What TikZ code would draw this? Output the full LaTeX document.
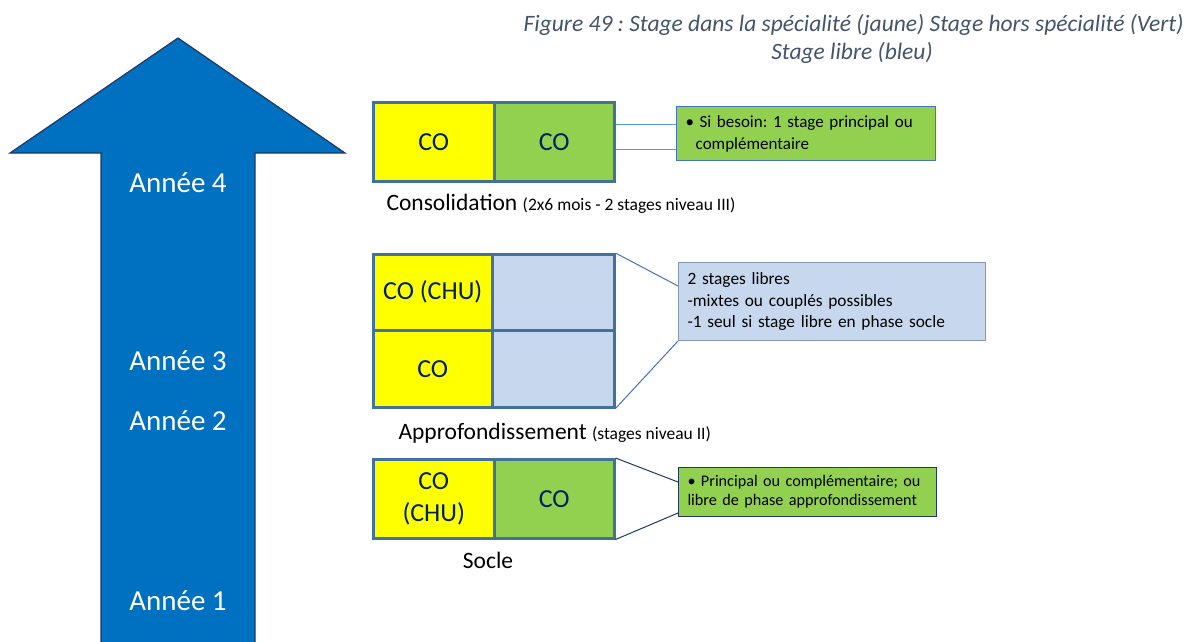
\documentclass[tikz,border=0pt]{standalone}
\usepackage{fontspec}
\setmainfont{Carlito}
\frenchspacing
\definecolor{arrowblue}{HTML}{0070C0}
\definecolor{arrowline}{HTML}{1F3864}
\definecolor{cyel}{HTML}{FFFF00}
\definecolor{cgreen}{HTML}{92D050}
\definecolor{clblue}{HTML}{C6D7EE}
\definecolor{cellborder}{HTML}{41719C}
\definecolor{cotext}{HTML}{002060}
\definecolor{captcol}{HTML}{44546A}
\definecolor{lnlight}{HTML}{5B9BD5}
\definecolor{lnmid}{HTML}{4472C4}
\definecolor{lndark}{HTML}{1F3864}
\definecolor{callgray}{HTML}{8497B0}
\tikzset{
  fs/.style n args={2}{font=\fontsize{#1}{#2}\selectfont},
  fsi/.style n args={2}{font=\fontsize{#1}{#2}\selectfont\itshape},
  cell/.style={draw=cellborder, line width=2.5pt, rectangle, anchor=north west, inner sep=0pt,
     text=cotext, fs={26}{32}, align=center},
  callout/.style={rectangle, anchor=north west, align=left, inner xsep=9pt, inner ysep=0pt},
  phase/.style={anchor=base west, fs={23.5}{28}, text=black},
  year/.style={text=white, fs={29}{34}},
  conn/.style={line width=1pt},
}
\begin{document}
\begin{tikzpicture}[x=1pt,y=-1pt]
\useasboundingbox (0,0) rectangle (1198,641);
% caption
\node[anchor=base east, text=captcol, fsi={23.5}{28}] (cap1) at (1187,31)
  {Figure 49 : Stage dans la spécialité (jaune) Stage hors spécialité (Vert)};
\node[anchor=base, text=captcol, fsi={23.5}{28}] (cap2) at (852,59)
  {Stage libre (bleu)};
% big arrow
\draw[fill=arrowblue, draw=arrowline, line width=1.2pt]
  (101,650) -- (101,153) -- (10,153) -- (178,38) -- (345,153) -- (255,153) -- (255,650);
\node[year] (y4) at (178,183) {Année 4};
\node[year] (y3) at (178,361) {Année 3};
\node[year] (y2) at (178,421) {Année 2};
\node[year] (y1) at (178,601) {Année 1};
% Consolidation
\node[cell, fill=cyel, minimum width=121pt, minimum height=79pt] (cL) at (372,101) {CO};
\node[cell, fill=cgreen, minimum width=120pt, minimum height=79pt] (cR) at (493,101) {CO};
\node[callout, draw=lnmid, line width=1pt, fill=cgreen, minimum width=259pt, minimum height=54pt,
      text width=241pt, fs={17}{22}] (call1) at (676,106)
  {\textbullet\ Si besoin: 1 stage principal ou\\\hspace*{0.6em}complémentaire};
\node[phase] (lcons) at (383,210) {Consolidation {\fontsize{17.5}{20}\selectfont(2x6 mois - 2 stages niveau III)}};
\coordinate (k1) at ([yshift=-18pt]call1.north west);
\coordinate (k2) at ([yshift=-43pt]call1.north west);
\draw[conn, lnlight] (cR.east |- k1) -- (k1);
\draw[conn, lnlight] (cR.east |- k2) -- (k2);
% Approfondissement
\node[cell, fill=cyel, minimum width=119pt, minimum height=76pt] (aTL) at (372,253) {CO (CHU)};
\node[cell, fill=clblue, minimum width=122pt, minimum height=76pt] (aTR) at (491,253) {};
\node[cell, fill=cyel, minimum width=119pt, minimum height=77pt] (aBL) at (372,329) {CO};
\node[cell, fill=clblue, minimum width=122pt, minimum height=77pt] (aBR) at (491,329) {};
\node[callout, draw=callgray, line width=1pt, fill=clblue, minimum width=307pt, minimum height=78pt,
      text width=289pt, fs={17.3}{21.5}] (call2) at (678,262)
  {2 stages libres\\-mixtes ou couplés possibles\\-1 seul si stage libre en phase socle};
\node[phase] (lapp) at (395,439) {Approfondissement {\fontsize{17.5}{20}\selectfont(stages niveau II)}};
\coordinate (k3) at ([yshift=-24pt]call2.north west);
\draw[conn, lnmid] (aTR.north east) -- (k3);
\draw[conn, lnmid] (aBR.south east) -- (call2.south west);
% Socle
\node[cell, fill=cyel, minimum width=121pt, minimum height=79pt] (sL) at (372,458) {CO\\(CHU)};
\node[cell, fill=cgreen, minimum width=120pt, minimum height=79pt] (sR) at (493,458) {CO};
\node[callout, draw=arrowline, line width=1pt, fill=cgreen, minimum width=258pt, minimum height=49pt,
      text width=240pt, fs={16.2}{19}] (call3) at (678,467)
  {\textbullet\ Principal ou complémentaire; ou\\libre de phase approfondissement};
\node[anchor=base, fs={23.5}{28}] (lsoc) at (488,568) {Socle};
\coordinate (k4) at ([yshift=-15pt]call3.north west);
\coordinate (k5) at ([yshift=4pt]call3.south west);
\draw[conn, lndark] (sR.north east) -- (k4);
\draw[conn, lndark] (sR.south east) -- (k5);
\end{tikzpicture}
\end{document}
